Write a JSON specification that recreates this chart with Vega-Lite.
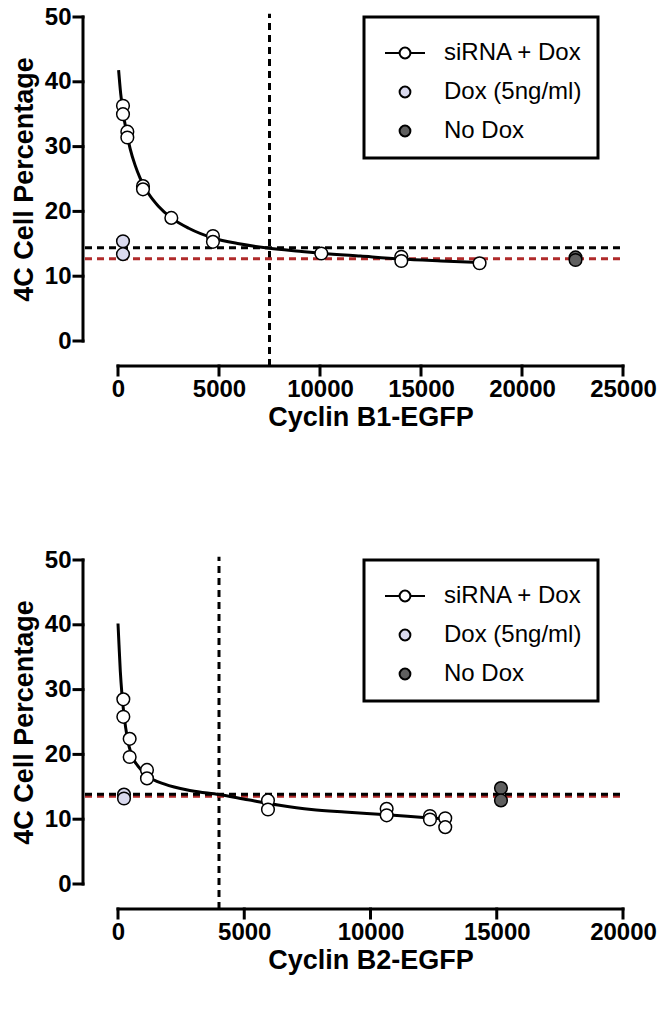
{
  "$schema": "https://vega.github.io/schema/vega-lite/v6.json",
  "padding": {"left": 10, "top": 5, "right": 5, "bottom": 5},
  "background": "white",
  "spacing": 118,
  "datasets": {
    "top_pts": [
      {"x": 247, "y": 36.3, "group": "siRNA + Dox"},
      {"x": 247, "y": 35.0, "group": "siRNA + Dox"},
      {"x": 462, "y": 32.3, "group": "siRNA + Dox"},
      {"x": 462, "y": 31.4, "group": "siRNA + Dox"},
      {"x": 1237, "y": 23.9, "group": "siRNA + Dox"},
      {"x": 1237, "y": 23.4, "group": "siRNA + Dox"},
      {"x": 2640, "y": 19.0, "group": "siRNA + Dox"},
      {"x": 4700, "y": 16.2, "group": "siRNA + Dox"},
      {"x": 4700, "y": 15.3, "group": "siRNA + Dox"},
      {"x": 10065, "y": 13.5, "group": "siRNA + Dox"},
      {"x": 14025, "y": 13.0, "group": "siRNA + Dox"},
      {"x": 14025, "y": 12.35, "group": "siRNA + Dox"},
      {"x": 17900, "y": 12.0, "group": "siRNA + Dox"},
      {"x": 247, "y": 15.4, "group": "Dox (5ng/ml)"},
      {"x": 247, "y": 13.4, "group": "Dox (5ng/ml)"},
      {"x": 22650, "y": 12.9, "group": "No Dox"},
      {"x": 22650, "y": 12.5, "group": "No Dox"}
    ],
    "top_curve": [
      {"x": 30, "y": 41.8}, {"x": 132, "y": 38.2}, {"x": 250, "y": 35.3},
      {"x": 400, "y": 32.6}, {"x": 600, "y": 29.7}, {"x": 850, "y": 27.1},
      {"x": 1100, "y": 25.1}, {"x": 1500, "y": 22.8}, {"x": 2000, "y": 20.8},
      {"x": 2640, "y": 19.0}, {"x": 3500, "y": 17.4}, {"x": 4700, "y": 15.9},
      {"x": 6000, "y": 15.0}, {"x": 7500, "y": 14.3}, {"x": 9000, "y": 13.85},
      {"x": 10065, "y": 13.55}, {"x": 12000, "y": 13.1}, {"x": 14000, "y": 12.65},
      {"x": 16000, "y": 12.35}, {"x": 17900, "y": 12.1}
    ],
    "top_h": [
      {"x": -1634, "x2": 25097, "y": 12.7, "kind": "No Dox mean"},
      {"x": -1634, "x2": 25097, "y": 14.4, "kind": "Dox mean"}
    ],
    "top_v": [{"x": 7500, "y": -3.86, "y2": 50.5}],
    "top_axes": [
      {"x": 0, "x2": 25000, "y": -3.858, "y2": -3.858},
      {"x": -1732.7, "x2": -1732.7, "y": 0, "y2": 50},
      {"x": 0, "x2": 0, "y": -3.858, "y2": -5.247},
      {"x": 5000, "x2": 5000, "y": -3.858, "y2": -5.247},
      {"x": 10000, "x2": 10000, "y": -3.858, "y2": -5.247},
      {"x": 15000, "x2": 15000, "y": -3.858, "y2": -5.247},
      {"x": 20000, "x2": 20000, "y": -3.858, "y2": -5.247},
      {"x": 25000, "x2": 25000, "y": -3.858, "y2": -5.247},
      {"x": -1732.7, "x2": -2178.2, "y": 0, "y2": 0},
      {"x": -1732.7, "x2": -2178.2, "y": 10, "y2": 10},
      {"x": -1732.7, "x2": -2178.2, "y": 20, "y2": 20},
      {"x": -1732.7, "x2": -2178.2, "y": 30, "y2": 30},
      {"x": -1732.7, "x2": -2178.2, "y": 40, "y2": 40},
      {"x": -1732.7, "x2": -2178.2, "y": 50, "y2": 50}
    ],
    "bot_pts": [
      {"x": 211, "y": 28.5, "group": "siRNA + Dox"},
      {"x": 211, "y": 25.8, "group": "siRNA + Dox"},
      {"x": 462, "y": 22.4, "group": "siRNA + Dox"},
      {"x": 462, "y": 19.6, "group": "siRNA + Dox"},
      {"x": 1148, "y": 17.6, "group": "siRNA + Dox"},
      {"x": 1148, "y": 16.3, "group": "siRNA + Dox"},
      {"x": 5940, "y": 12.9, "group": "siRNA + Dox"},
      {"x": 5940, "y": 11.5, "group": "siRNA + Dox"},
      {"x": 10640, "y": 11.6, "group": "siRNA + Dox"},
      {"x": 10640, "y": 10.6, "group": "siRNA + Dox"},
      {"x": 12355, "y": 10.5, "group": "siRNA + Dox"},
      {"x": 12355, "y": 9.95, "group": "siRNA + Dox"},
      {"x": 12960, "y": 10.15, "group": "siRNA + Dox"},
      {"x": 12960, "y": 8.77, "group": "siRNA + Dox"},
      {"x": 238, "y": 13.8, "group": "Dox (5ng/ml)"},
      {"x": 238, "y": 13.2, "group": "Dox (5ng/ml)"},
      {"x": 15167, "y": 14.8, "group": "No Dox"},
      {"x": 15167, "y": 12.9, "group": "No Dox"}
    ],
    "bot_curve": [
      {"x": 0, "y": 40.2}, {"x": 40, "y": 36.9}, {"x": 92, "y": 32.8},
      {"x": 158, "y": 29.2}, {"x": 238, "y": 26.1}, {"x": 370, "y": 22.5},
      {"x": 528, "y": 20.0}, {"x": 792, "y": 18.2}, {"x": 1188, "y": 16.6},
      {"x": 1848, "y": 15.4}, {"x": 2904, "y": 14.4}, {"x": 4000, "y": 13.8},
      {"x": 5148, "y": 13.0}, {"x": 6336, "y": 12.2}, {"x": 7656, "y": 11.5},
      {"x": 8977, "y": 11.1}, {"x": 10640, "y": 10.7}, {"x": 12355, "y": 10.2},
      {"x": 12960, "y": 10.05}
    ],
    "bot_h": [
      {"x": -1307, "x2": 20077, "y": 13.55, "kind": "No Dox mean"},
      {"x": -1307, "x2": 20077, "y": 13.85, "kind": "Dox mean"}
    ],
    "bot_v": [{"x": 4000, "y": -3.86, "y2": 50.5}],
    "bot_axes": [
      {"x": 0, "x2": 20000, "y": -3.858, "y2": -3.858},
      {"x": -1386.1, "x2": -1386.1, "y": 0, "y2": 50},
      {"x": 0, "x2": 0, "y": -3.858, "y2": -5.247},
      {"x": 5000, "x2": 5000, "y": -3.858, "y2": -5.247},
      {"x": 10000, "x2": 10000, "y": -3.858, "y2": -5.247},
      {"x": 15000, "x2": 15000, "y": -3.858, "y2": -5.247},
      {"x": 20000, "x2": 20000, "y": -3.858, "y2": -5.247},
      {"x": -1386.1, "x2": -1742.6, "y": 0, "y2": 0},
      {"x": -1386.1, "x2": -1742.6, "y": 10, "y2": 10},
      {"x": -1386.1, "x2": -1742.6, "y": 20, "y2": 20},
      {"x": -1386.1, "x2": -1742.6, "y": 30, "y2": 30},
      {"x": -1386.1, "x2": -1742.6, "y": 40, "y2": 40},
      {"x": -1386.1, "x2": -1742.6, "y": 50, "y2": 50}
    ],
    "legend_rows": [
      {"group": "siRNA + Dox"},
      {"group": "Dox (5ng/ml)"},
      {"group": "No Dox"}
    ]
  },
  "vconcat": [
    {
      "width": 505,
      "height": 324,
      "layer": [
        {
          "data": {"name": "top_v"},
          "mark": {"type": "rule", "color": "black", "strokeWidth": 3, "strokeDash": [7, 5]},
          "encoding": {
            "x": {"field": "x", "type": "quantitative", "scale": {"domain": [0, 25000], "nice": false, "zero": false},
              "axis": {"title": "Cyclin B1-EGFP", "values": [0, 5000, 10000, 15000, 20000, 25000], "format": "d", "offset": 25, "domain": false, "ticks": false, "tickSize": 0, "labelPadding": 11, "titlePadding": 3, "labelFlush": false, "labelOverlap": false}},
            "y": {"field": "y", "type": "quantitative", "scale": {"domain": [0, 50], "nice": false},
              "axis": {"title": "4C Cell Percentage", "values": [0, 10, 20, 30, 40, 50], "offset": 35, "domain": false, "ticks": false, "tickSize": 0, "labelPadding": 12, "titlePadding": 6, "labelOverlap": false}},
            "y2": {"field": "y2"}
          }
        },
        {
          "data": {"name": "top_axes"},
          "mark": {"type": "rule", "color": "black", "strokeWidth": 3, "strokeCap": "square"},
          "encoding": {
            "x": {"field": "x", "type": "quantitative"},
            "x2": {"field": "x2"},
            "y": {"field": "y", "type": "quantitative"},
            "y2": {"field": "y2"}
          }
        },
        {
          "data": {"name": "top_h"},
          "mark": {"type": "rule", "strokeWidth": 3, "strokeDash": [7, 5]},
          "encoding": {
            "x": {"field": "x", "type": "quantitative"},
            "x2": {"field": "x2"},
            "y": {"field": "y", "type": "quantitative"},
            "stroke": {"field": "kind", "type": "nominal", "scale": {"domain": ["Dox mean", "No Dox mean"], "range": ["black", "#b02a2a"]}, "legend": null}
          }
        },
        {
          "data": {"name": "top_curve"},
          "mark": {"type": "line", "color": "black", "strokeWidth": 3, "interpolate": "monotone"},
          "encoding": {
            "x": {"field": "x", "type": "quantitative"},
            "y": {"field": "y", "type": "quantitative"}
          }
        },
        {
          "data": {"name": "top_pts"},
          "mark": {"type": "point", "filled": true, "size": 160, "stroke": "black", "strokeWidth": 1.5, "opacity": 1},
          "encoding": {
            "x": {"field": "x", "type": "quantitative"},
            "y": {"field": "y", "type": "quantitative"},
            "fill": {"field": "group", "type": "nominal", "scale": {"domain": ["siRNA + Dox", "Dox (5ng/ml)", "No Dox"], "range": ["white", "#d9d9ee", "#5f5f5f"]}}
          }
        },
        {
          "data": {"name": "legend_rows"},
          "mark": {"type": "point", "filled": true, "opacity": 0},
          "encoding": {
            "fill": {"field": "group", "type": "nominal", "scale": {"domain": ["siRNA + Dox", "Dox (5ng/ml)", "No Dox"], "range": ["white", "#d9d9ee", "#5f5f5f"]},
              "legend": {"orient": "none", "legendX": 246, "legendY": 0, "title": null, "labelExpr": "datum.label + '\u00a0\u00a0\u00a0'",
                "encode": {"legend": {"update": {"strokeWidth": {"value": 3}}}, "symbols": {"update": {"opacity": {"value": 1}, "stroke": {"value": "black"}, "strokeWidth": {"value": 2}}}}}},
            "shape": {"field": "group", "type": "nominal", "scale": {"domain": ["siRNA + Dox", "Dox (5ng/ml)", "No Dox"], "range": ["M-1,0H-0.27M0.27,0H1M0.27,0A0.27,0.27,0,1,1,-0.27,0A0.27,0.27,0,1,1,0.27,0Z", "M0.27,0A0.27,0.27,0,1,1,-0.27,0A0.27,0.27,0,1,1,0.27,0Z", "M0.27,0A0.27,0.27,0,1,1,-0.27,0A0.27,0.27,0,1,1,0.27,0Z"]},
              "legend": {"orient": "none", "legendX": 246, "legendY": 0, "title": null, "labelExpr": "datum.label + '\u00a0\u00a0\u00a0'",
                "encode": {"legend": {"update": {"strokeWidth": {"value": 3}}}, "symbols": {"update": {"opacity": {"value": 1}, "stroke": {"value": "black"}, "strokeWidth": {"value": 2}}}}}}
          }
        }
      ]
    },
    {
      "width": 505,
      "height": 324,
      "layer": [
        {
          "data": {"name": "bot_v"},
          "mark": {"type": "rule", "color": "black", "strokeWidth": 3, "strokeDash": [7, 5]},
          "encoding": {
            "x": {"field": "x", "type": "quantitative", "scale": {"domain": [0, 20000], "nice": false, "zero": false},
              "axis": {"title": "Cyclin B2-EGFP", "values": [0, 5000, 10000, 15000, 20000], "format": "d", "offset": 25, "domain": false, "ticks": false, "tickSize": 0, "labelPadding": 11, "titlePadding": 3, "labelFlush": false, "labelOverlap": false}},
            "y": {"field": "y", "type": "quantitative", "scale": {"domain": [0, 50], "nice": false},
              "axis": {"title": "4C Cell Percentage", "values": [0, 10, 20, 30, 40, 50], "offset": 35, "domain": false, "ticks": false, "tickSize": 0, "labelPadding": 12, "titlePadding": 6, "labelOverlap": false}},
            "y2": {"field": "y2"}
          }
        },
        {
          "data": {"name": "bot_axes"},
          "mark": {"type": "rule", "color": "black", "strokeWidth": 3, "strokeCap": "square"},
          "encoding": {
            "x": {"field": "x", "type": "quantitative"},
            "x2": {"field": "x2"},
            "y": {"field": "y", "type": "quantitative"},
            "y2": {"field": "y2"}
          }
        },
        {
          "data": {"name": "bot_h"},
          "mark": {"type": "rule", "strokeWidth": 3, "strokeDash": [7, 5]},
          "encoding": {
            "x": {"field": "x", "type": "quantitative"},
            "x2": {"field": "x2"},
            "y": {"field": "y", "type": "quantitative"},
            "stroke": {"field": "kind", "type": "nominal", "scale": {"domain": ["Dox mean", "No Dox mean"], "range": ["black", "#b02a2a"]}, "legend": null}
          }
        },
        {
          "data": {"name": "bot_curve"},
          "mark": {"type": "line", "color": "black", "strokeWidth": 3, "interpolate": "monotone"},
          "encoding": {
            "x": {"field": "x", "type": "quantitative"},
            "y": {"field": "y", "type": "quantitative"}
          }
        },
        {
          "data": {"name": "bot_pts"},
          "mark": {"type": "point", "filled": true, "size": 160, "stroke": "black", "strokeWidth": 1.5, "opacity": 1},
          "encoding": {
            "x": {"field": "x", "type": "quantitative"},
            "y": {"field": "y", "type": "quantitative"},
            "fill": {"field": "group", "type": "nominal", "scale": {"domain": ["siRNA + Dox", "Dox (5ng/ml)", "No Dox"], "range": ["white", "#d9d9ee", "#5f5f5f"]}}
          }
        },
        {
          "data": {"name": "legend_rows"},
          "mark": {"type": "point", "filled": true, "opacity": 0},
          "encoding": {
            "fill": {"field": "group", "type": "nominal", "scale": {"domain": ["siRNA + Dox", "Dox (5ng/ml)", "No Dox"], "range": ["white", "#d9d9ee", "#5f5f5f"]},
              "legend": {"orient": "none", "legendX": 246, "legendY": 0, "title": null, "labelExpr": "datum.label + '\u00a0\u00a0\u00a0'",
                "encode": {"legend": {"update": {"strokeWidth": {"value": 3}}}, "symbols": {"update": {"opacity": {"value": 1}, "stroke": {"value": "black"}, "strokeWidth": {"value": 2}}}}}},
            "shape": {"field": "group", "type": "nominal", "scale": {"domain": ["siRNA + Dox", "Dox (5ng/ml)", "No Dox"], "range": ["M-1,0H-0.27M0.27,0H1M0.27,0A0.27,0.27,0,1,1,-0.27,0A0.27,0.27,0,1,1,0.27,0Z", "M0.27,0A0.27,0.27,0,1,1,-0.27,0A0.27,0.27,0,1,1,0.27,0Z", "M0.27,0A0.27,0.27,0,1,1,-0.27,0A0.27,0.27,0,1,1,0.27,0Z"]},
              "legend": {"orient": "none", "legendX": 246, "legendY": 0, "title": null, "labelExpr": "datum.label + '\u00a0\u00a0\u00a0'",
                "encode": {"legend": {"update": {"strokeWidth": {"value": 3}}}, "symbols": {"update": {"opacity": {"value": 1}, "stroke": {"value": "black"}, "strokeWidth": {"value": 2}}}}}}
          }
        }
      ]
    }
  ],
  "resolve": {"scale": {"x": "independent", "y": "independent", "fill": "independent", "shape": "independent", "stroke": "independent"}, "legend": {"fill": "independent", "shape": "independent"}},
  "config": {
    "view": {"stroke": null},
    "axis": {
      "grid": false,
      "labelFont": "Liberation Sans", "labelFontWeight": "bold", "labelFontSize": 24, "labelColor": "black",
      "titleFont": "Liberation Sans", "titleFontWeight": "bold", "titleFontSize": 27, "titleColor": "black"
    },
    "legend": {
      "padding": 15, "rowPadding": 6, "labelOffset": 18, "symbolOffset": 5,
      "labelFont": "Liberation Sans", "labelFontSize": 24, "labelColor": "black",
      "symbolSize": 1600, "symbolStrokeWidth": 2, "symbolStrokeColor": "black", "symbolOpacity": 1,
      "strokeColor": "black", "fillColor": "white"
    }
  }
}
